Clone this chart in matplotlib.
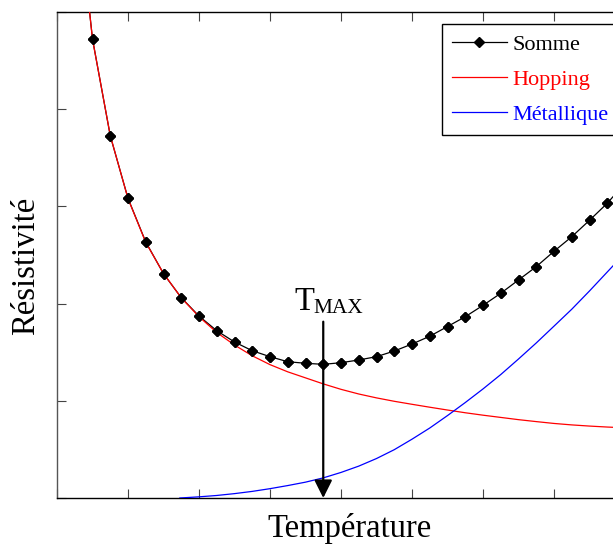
import matplotlib
matplotlib.use("Agg")
import matplotlib.pyplot as plt

plt.rcParams['font.family'] = ['Liberation Serif', 'DejaVu Serif']

# ---- data (arbitrary units) ----
somme_x = [0.4, 0.5, 0.75, 1.0, 1.25, 1.5, 1.75, 2.0, 2.25, 2.5, 2.75, 3.0, 3.25, 3.5,
           3.75, 4.0, 4.25, 4.5, 4.75, 5.0, 5.25, 5.5, 5.75, 6.0, 6.25, 6.5, 6.75,
           7.0, 7.25, 7.5, 7.75, 8.0, 8.25]
somme_y = [5.40, 4.722, 3.727, 3.083, 2.634, 2.308, 2.061, 1.872, 1.721, 1.605, 1.515,
           1.454, 1.402, 1.386, 1.375, 1.392, 1.420, 1.454, 1.512, 1.584, 1.664, 1.764,
           1.865, 1.982, 2.106, 2.243, 2.380, 2.538, 2.688, 2.857, 3.032, 3.24, 3.44]

hop_x = [0.4, 0.5, 0.75, 1.0, 1.25, 1.5, 1.75, 2.0, 2.25, 2.5, 2.75, 3.0, 3.25, 3.5,
         3.75, 4.0, 4.25, 4.5, 4.75, 5.0, 5.25, 5.5, 5.75, 6.0, 6.25, 6.5, 6.75,
         7.0, 7.25, 7.5, 7.75, 8.0, 8.25]
hop_y = [5.40, 4.72, 3.73, 3.08, 2.63, 2.31, 2.06, 1.865, 1.703, 1.574, 1.463, 1.372,
         1.298, 1.236, 1.174, 1.118, 1.070, 1.030, 0.995, 0.964, 0.934, 0.905, 0.877,
         0.852, 0.829, 0.806, 0.786, 0.767, 0.752, 0.740, 0.730, 0.722, 0.715]

met_x = [1.73, 2.0, 2.25, 2.5, 2.75, 3.0, 3.25, 3.5, 3.75, 4.0, 4.25, 4.5, 4.75, 5.0,
         5.25, 5.5, 5.75, 6.0, 6.25, 6.5, 6.75, 7.0, 7.25, 7.5, 7.75, 8.0, 8.25]
met_y = [0.0, 0.012, 0.026, 0.045, 0.068, 0.096, 0.128, 0.163, 0.207, 0.263, 0.328, 0.406,
         0.497, 0.605, 0.72, 0.848, 0.982, 1.122, 1.27, 1.43, 1.595, 1.768, 1.942, 2.13,
         2.325, 2.52, 2.72]

t_max = 3.75
labels = ["Somme", "Hopping", "Métallique"]
x_ticks = [0, 1, 2, 3, 4, 5, 6, 7, 8]
y_ticks = [0, 1, 2, 3, 4, 5]

# ---- figure ----
fig = plt.figure(figsize=(6.13, 5.44), dpi=100)
W, H = 613.0, 544.0
ax = fig.add_axes([57 / W, 46 / H, 586 / W, 486 / H])
ax.set_xlim(0, 586 / 71.0)
ax.set_ylim(0, 5.0)

l1, = ax.plot(somme_x, somme_y, color='black', lw=0.9, marker='D', ms=5,
              markevery=slice(1, -2), zorder=2, label=labels[0])
l2, = ax.plot(hop_x, hop_y, color='red', lw=0.9, zorder=3, label=labels[1])
l3, = ax.plot(met_x, met_y, color='blue', lw=0.9, zorder=3, label=labels[2])
# markers on top of the red curve
ax.plot(somme_x[1:-2], somme_y[1:-2], ls='none', marker='D', ms=5, color='black', zorder=4)

# T_MAX arrow and label
ax.annotate('', xy=(t_max, 0.0), xytext=(t_max, 1.814),
            arrowprops=dict(arrowstyle='-|>,head_length=0.4,head_width=0.2',
                            mutation_scale=27, color='black', lw=1.6,
                            shrinkA=0, shrinkB=0), zorder=5)
ax.text(3.34, 1.934, 'T', fontsize=23.5, ha='left', va='baseline')
ax.text(3.615, 1.903, 'MAX', fontsize=15.4, ha='left', va='baseline')

# axes styling
ax.set_xticks(x_ticks)
ax.set_yticks(y_ticks)
ax.tick_params(axis='both', direction='in', length=6.5, width=0.8, color='#444444',
               labelbottom=False, labelleft=False, top=True, right=False)
for side in ['top', 'bottom']:
    ax.spines[side].set_color('black')
    ax.spines[side].set_linewidth(1.0)
ax.spines['left'].set_color('#555555')
ax.spines['left'].set_linewidth(1.0)
ax.spines['right'].set_visible(False)

ax.set_xlabel('Température', fontsize=23.5, va='baseline')
ax.xaxis.set_label_coords(0.5, -0.080)
ax.set_ylabel('Résistivité', fontsize=23.5, va='center')
ax.yaxis.set_label_coords(-0.053, 0.477)

leg = ax.legend(handles=[l1, l2, l3], loc='upper left',
                bbox_to_anchor=(441.7 / W, 1 - 24 / H), bbox_transform=fig.transFigure,
                fontsize=16, frameon=True, fancybox=False, framealpha=1,
                edgecolor='black', numpoints=1, handlelength=2.5, handletextpad=0.25,
                labelspacing=0.66, borderpad=0.45, borderaxespad=0)
leg.get_frame().set_linewidth(1.0)
for txt, c in zip(leg.get_texts(), ['black', 'red', 'blue']):
    txt.set_color(c)

fig.savefig('out.png', dpi=100)
